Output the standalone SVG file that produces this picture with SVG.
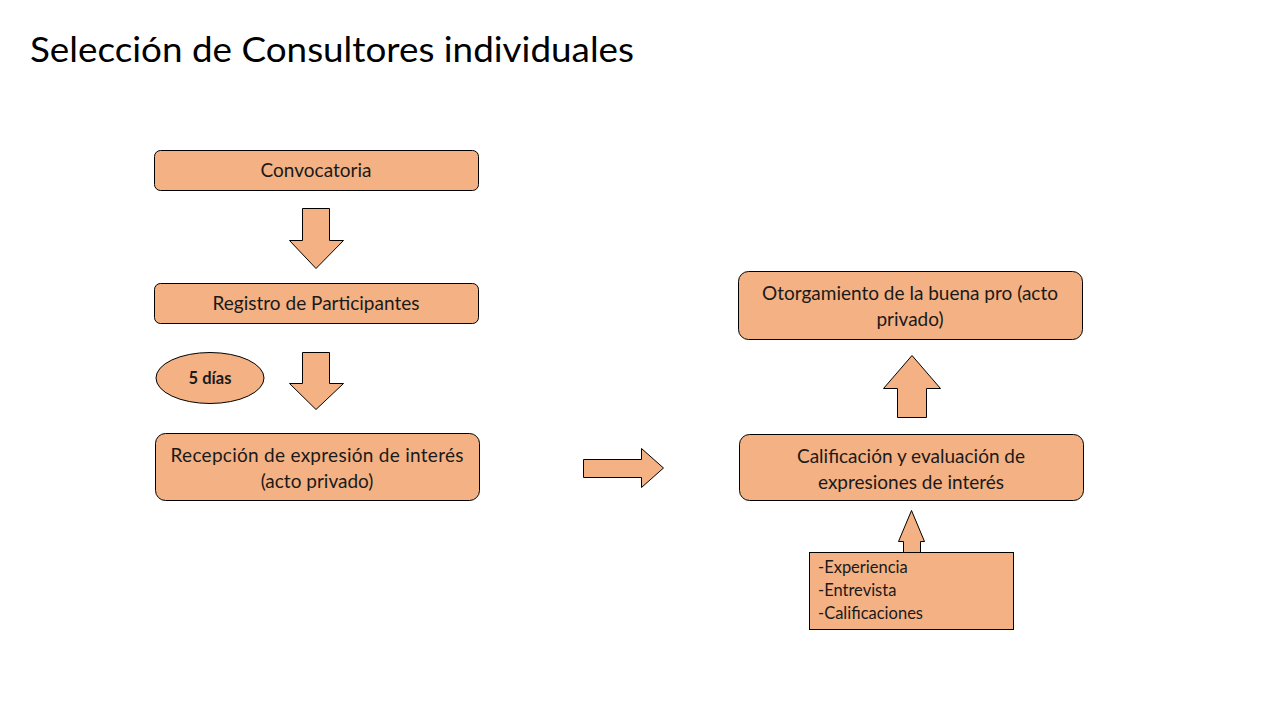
<svg xmlns="http://www.w3.org/2000/svg" width="1279" height="720" viewBox="0 0 1279 720">
<style>
.box{fill:#F4B183;stroke:#000;stroke-width:1}
.arr{fill:#F4B183;stroke:#000;stroke-width:1;stroke-linejoin:miter}
.t{font-family:Lato,"Liberation Sans",sans-serif;font-size:19px;fill:#1a1a1a;text-anchor:middle}
.s{font-family:Lato,"Liberation Sans",sans-serif;font-size:16.5px;fill:#1a1a1a}
.title{font-family:Lato,"Liberation Sans",sans-serif;font-size:35px;fill:#000}
</style>
<rect width="1279" height="720" fill="#fff"/>
<text class="title" x="30" y="62" textLength="604" lengthAdjust="spacingAndGlyphs">Selección de Consultores individuales</text>

<g id="convocatoria">
<rect class="box" x="154.5" y="150.5" width="324" height="40" rx="6"/>
<text class="t" x="316" y="177">Convocatoria</text>
</g>
<g id="registro">
<rect class="box" x="154.5" y="283.5" width="324" height="40" rx="6"/>
<text class="t" x="316" y="310">Registro de Participantes</text>
</g>
<g id="dias">
<ellipse class="box" cx="210" cy="378" rx="54" ry="25.5"/>
<text class="s" x="210" y="384" text-anchor="middle" font-weight="bold" font-size="16">5 días</text>
</g>
<g id="recepcion">
<rect class="box" x="155.5" y="433.5" width="324" height="67" rx="10"/>
<text class="t" x="317" y="462" textLength="293" lengthAdjust="spacing">Recepción de expresión de interés</text>
<text class="t" x="317" y="488">(acto privado)</text>
</g>
<g id="otorgamiento">
<rect class="box" x="738.5" y="271.5" width="344" height="68" rx="10"/>
<text class="t" x="910" y="300">Otorgamiento de la buena pro (acto</text>
<text class="t" x="910" y="326">privado)</text>
</g>
<g id="calificacion">
<rect class="box" x="739.5" y="434.5" width="344" height="66" rx="10"/>
<text class="t" x="911" y="463">Calificación y evaluación de</text>
<text class="t" x="911" y="489">expresiones de interés</text>
</g>
<g id="criterios">
<rect class="box" x="809.5" y="552.5" width="204" height="77"/>
<text class="s" x="818" y="573">-Experiencia</text>
<text class="s" x="818" y="596">-Entrevista</text>
<text class="s" x="818" y="619">-Calificaciones</text>
</g>

<g id="connectors">
<polygon class="arr" points="302.5,208.5 329.5,208.5 329.5,240.5 343.5,240.5 316,268.5 289.5,240.5 302.5,240.5"/>
<polygon class="arr" points="302.5,352.5 329.5,352.5 329.5,383.5 343.5,383.5 316,409.5 289.5,383.5 302.5,383.5"/>
<polygon class="arr" points="583.5,459.5 641.5,459.5 641.5,448.5 663.5,468 641.5,487.5 641.5,477.5 583.5,477.5"/>
<polygon class="arr" points="897.5,417.5 897.5,388.5 883.5,388.5 912,355.5 940.5,388.5 926.5,388.5 926.5,417.5"/>
<polygon class="arr" points="903.5,552.5 903.5,541.5 898.5,541.5 911.5,510.5 924.5,541.5 920.5,541.5 920.5,552.5"/>
</g>
</svg>
